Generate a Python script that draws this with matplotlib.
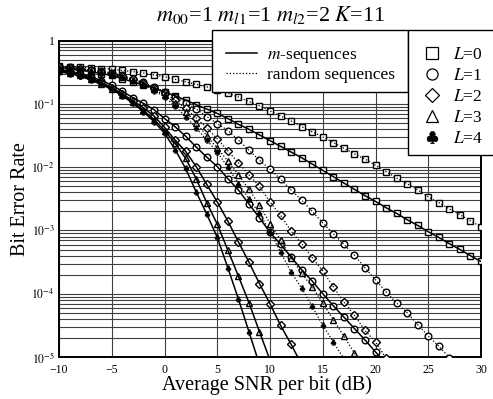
import numpy as np
import matplotlib
matplotlib.use("Agg")
import matplotlib.pyplot as plt
from matplotlib.lines import Line2D
from matplotlib.patches import Rectangle
from matplotlib.ticker import FuncFormatter, LogLocator

plt.rcParams['font.family'] = ['Liberation Serif', 'DejaVu Serif']
plt.rcParams['mathtext.fontset'] = 'stix'

# SNR per bit (dB), one marker per dB
snr = np.arange(-10, 31)

# log10(BER), starting at -10 dB
l0_rand = [-0.40, -0.41, -0.42, -0.43, -0.44, -0.45, -0.47, -0.49, -0.51, -0.54,
           -0.57, -0.61, -0.65, -0.69, -0.73, -0.78, -0.83, -0.89, -0.96, -1.03,
           -1.11, -1.19, -1.27, -1.36, -1.44, -1.52, -1.61, -1.70, -1.79, -1.87,
           -1.97, -2.07, -2.17, -2.26, -2.36, -2.47, -2.56, -2.66, -2.75, -2.85, -2.94]
l0_mseq = [-0.42, -0.44, -0.46, -0.49, -0.52, -0.55, -0.60, -0.65, -0.70, -0.75,
           -0.81, -0.87, -0.94, -1.01, -1.08, -1.15, -1.23, -1.32, -1.40, -1.49,
           -1.58, -1.67, -1.76, -1.85, -1.95, -2.05, -2.15, -2.25, -2.35, -2.45,
           -2.54, -2.64, -2.73, -2.83, -2.92, -3.02, -3.11, -3.21, -3.30, -3.40, -3.49]
l1_rand = [-0.41, -0.42, -0.44, -0.46, -0.48, -0.51, -0.55, -0.60, -0.66, -0.73,
           -0.81, -0.89, -0.98, -1.08, -1.20, -1.31, -1.42, -1.57, -1.73, -1.89,
           -2.03, -2.19, -2.36, -2.52, -2.70, -2.88, -3.05, -3.22, -3.39, -3.59,
           -3.78, -3.97, -4.15, -4.30, -4.49, -4.67, -4.83, -5.01]
l1_mseq = [-0.45, -0.48, -0.52, -0.57, -0.63, -0.70, -0.80, -0.90, -0.99, -1.09,
           -1.23, -1.36, -1.51, -1.68, -1.84, -1.99, -2.18, -2.36, -2.58, -2.80,
           -3.03, -3.22, -3.42, -3.62, -3.80, -4.00, -4.19, -4.37, -4.55, -4.73,
           -4.92, -5.10]
l2_rand = [-0.42, -0.43, -0.45, -0.47, -0.49, -0.52, -0.56, -0.61, -0.67, -0.74,
           -0.83, -0.94, -1.07, -1.22, -1.38, -1.55, -1.74, -1.93, -2.12, -2.30,
           -2.55, -2.76, -3.01, -3.21, -3.43, -3.64, -3.89, -4.13, -4.34, -4.58,
           -4.76, -5.02]
l2_mseq = [-0.47, -0.50, -0.54, -0.59, -0.66, -0.74, -0.84, -0.95, -1.06, -1.19,
           -1.37, -1.57, -1.75, -1.99, -2.27, -2.55, -2.85, -3.18, -3.50, -3.84,
           -4.16, -4.50, -4.80, -5.12]
l3_rand = [-0.43, -0.44, -0.46, -0.48, -0.50, -0.53, -0.57, -0.62, -0.69, -0.77,
           -0.86, -0.98, -1.12, -1.30, -1.50, -1.70, -1.90, -2.12, -2.35, -2.60,
           -2.89, -3.15, -3.43, -3.68, -3.89, -4.15, -4.41, -4.67, -4.94, -5.20]
l3_mseq = [-0.48, -0.51, -0.55, -0.61, -0.68, -0.76, -0.86, -0.97, -1.10, -1.25,
           -1.42, -1.62, -1.86, -2.18, -2.56, -2.90, -3.31, -3.72, -4.14, -4.60, -5.05]
l4_rand = [-0.44, -0.45, -0.47, -0.49, -0.51, -0.54, -0.58, -0.63, -0.70, -0.79,
           -0.89, -1.03, -1.20, -1.38, -1.57, -1.76, -2.00, -2.26, -2.50, -2.73,
           -3.02, -3.34, -3.66, -3.91, -4.20, -4.50, -4.76, -5.03]
l4_mseq = [-0.49, -0.52, -0.56, -0.62, -0.69, -0.77, -0.87, -0.99, -1.12, -1.28,
           -1.46, -1.72, -2.02, -2.39, -2.74, -3.11, -3.59, -4.08, -4.60, -5.12]

path_labels = ['$L$=0', '$L$=1', '$L$=2', '$L$=3', '$L$=4']
markers = ['s', 'o', 'D', '^', r'$\clubsuit$']
mseq_curves = [l0_mseq, l1_mseq, l2_mseq, l3_mseq, l4_mseq]
rand_curves = [l0_rand, l1_rand, l2_rand, l3_rand, l4_rand]

fig = plt.figure(figsize=(4.93, 3.99), dpi=100)
ax = fig.add_axes([0.1197, 0.1053, 0.8560, 0.7927])


def draw(ax, logber, marker, ls, lw):
    x = snr[:len(logber)]
    y = 10.0 ** np.array(logber)
    club = marker.startswith('$')
    ms = 4.2 if club else 4.8
    if marker == 'D':
        ms = 4.2
    ax.plot(x, y, ls='none', marker=marker, ms=ms, mew=0.3 if club else 1.0,
            mfc='k' if club else 'white', mec='k', zorder=3)
    ax.plot(x, y, ls=ls, color='k', lw=lw, zorder=4)


for i in range(5):
    draw(ax, rand_curves[i], markers[i], (0, (1, 1.6)), 0.9)
    draw(ax, mseq_curves[i], markers[i], '-', 1.1)

ax.set_yscale('log')
ax.set_xlim(-10, 30)
ax.set_ylim(1e-5, 1)
ax.set_xticks(np.arange(-10, 31, 5))
ax.yaxis.set_major_locator(LogLocator(base=10, numticks=10))
ax.yaxis.set_minor_locator(LogLocator(base=10, subs=np.arange(2, 10), numticks=20))
ax.yaxis.set_major_formatter(FuncFormatter(
    lambda v, p: '1' if abs(v - 1) < 1e-9 else r'$10^{%d}$' % round(np.log10(v))))
ax.yaxis.set_minor_formatter(FuncFormatter(lambda v, p: ''))
ax.tick_params(which='both', length=0, labelsize=8.5)
ax.tick_params(axis='x', pad=5)
ax.tick_params(axis='y', pad=3)
ax.grid(True, which='major', axis='x', color='0.25', lw=0.8)
ax.grid(True, which='both', axis='y', color='0.25', lw=0.8)
for s in ax.spines.values():
    s.set_linewidth(1.4)

ax.set_ylabel('Bit Error Rate', fontsize=14.5, labelpad=1)
fig.text(0.542, 0.035, 'Average SNR per bit (dB)', fontsize=14.5,
         ha='center', va='center')
fig.text(0.548, 0.962, '$m_{00}$=1 $m_{l1}$=1 $m_{l2}$=2 $K$=11', fontsize=16,
         ha='center', va='center')

# legend boxes
fig.add_artist(Rectangle((0.430, 0.769), 0.398, 0.156, transform=fig.transFigure,
                         facecolor='white', edgecolor='k', lw=1.0, zorder=4))
fig.add_artist(Rectangle((0.828, 0.612), 0.2, 0.313, transform=fig.transFigure,
                         facecolor='white', edgecolor='k', lw=1.0, zorder=4))

seq_handles = [Line2D([], [], color='k', lw=1.1, ls='-'),
               Line2D([], [], color='k', lw=0.9, ls=(0, (1, 1.6)))]
leg1 = fig.legend(seq_handles, ['$m$-sequences', 'random sequences'],
                  loc='upper left', bbox_to_anchor=(0.4584, 0.882),
                  fontsize=12.5, frameon=False, handlelength=1.8,
                  borderpad=0, borderaxespad=0, labelspacing=0.12,
                  handletextpad=0.55)

path_handles = []
for m in markers:
    club = m.startswith('$')
    path_handles.append(Line2D([], [], ls='none', marker=m,
                               ms=9 if club else (7.5 if m == 'D' else 8),
                               mew=0.3 if club else 0.9,
                               mfc='k' if club else 'white', mec='k'))
leg2 = fig.legend(path_handles, path_labels,
                  loc='upper left', bbox_to_anchor=(0.855, 0.8835),
                  fontsize=12.5, frameon=False, handlelength=1.2,
                  borderpad=0, borderaxespad=0, labelspacing=0.28,
                  handletextpad=0.6)

fig.savefig('out.png', dpi=100)
